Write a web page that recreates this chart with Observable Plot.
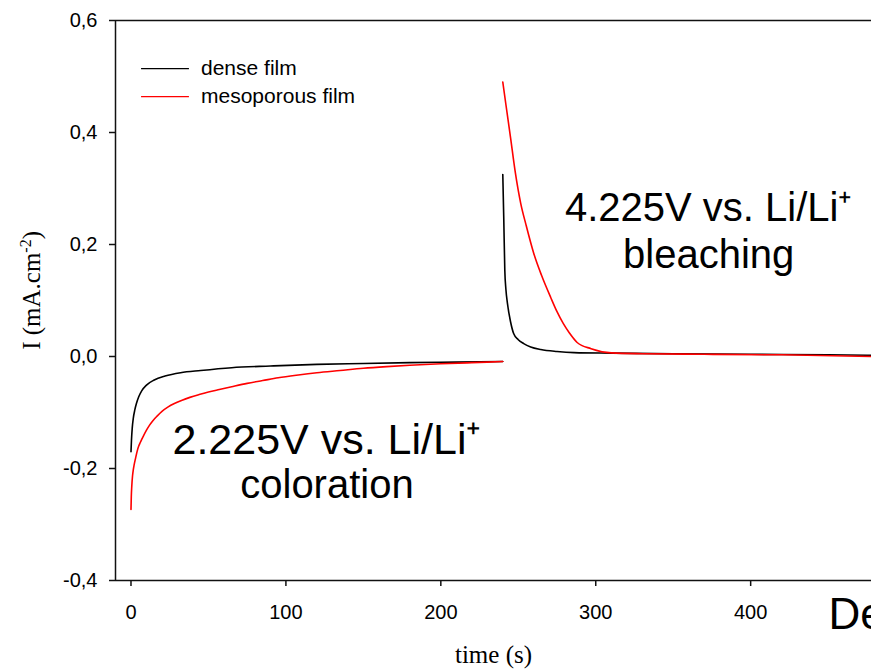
<!DOCTYPE html>
<html>
<head>
<meta charset="utf-8">
<script src="https://cdn.jsdelivr.net/npm/d3@7"></script>
<script src="https://cdn.jsdelivr.net/npm/@observablehq/plot@0.6"></script>
<style>
  html, body { margin: 0; padding: 0; background: #fff; }
</style>
</head>
<body>
<div id="chart"></div>
<script>
// ---- Data ----
const seriesNames = ["dense film", "mesoporous film"];
const seriesColors = ["#000000", "#ff0000"];

// Coloration step (2.225 V), time in s, current in mA.cm-2
const denseColT = [0, 0.3, 0.8, 1.5, 2.5, 3.5, 5, 7, 10, 15, 22, 32, 45, 65, 90, 120, 150, 180, 210, 240];
const denseColI = [-0.170, -0.150, -0.128, -0.110, -0.095, -0.084, -0.072, -0.061, -0.051, -0.042, -0.035, -0.029, -0.025, -0.020, -0.017, -0.014, -0.0125, -0.011, -0.010, -0.009];

const mesoColT = [0, 0.2, 0.5, 1, 1.5, 2, 3, 4, 5, 6, 7, 8, 10, 12, 14, 17, 20, 24, 28, 33, 38, 44, 50, 57, 65, 75, 85, 95, 108, 120, 135, 150, 165, 180, 200, 220, 240];
const mesoColI = [-0.273, -0.250, -0.232, -0.213, -0.202, -0.194, -0.181, -0.169, -0.160, -0.1535, -0.1475, -0.142, -0.1315, -0.1225, -0.115, -0.106, -0.098, -0.090, -0.084, -0.078, -0.073, -0.068, -0.0635, -0.059, -0.054, -0.048, -0.043, -0.038, -0.033, -0.029, -0.025, -0.021, -0.018, -0.0155, -0.013, -0.011, -0.009];

// Bleaching step (4.225 V)
const denseBleT = [240, 240.6, 241.3, 242, 243, 245, 247, 250, 253.5, 258, 264.5, 275, 286, 310, 350, 400, 450, 478];
const denseBleI = [0.325, 0.250, 0.154, 0.120, 0.095, 0.062, 0.041, 0.030, 0.023, 0.017, 0.0125, 0.009, 0.007, 0.006, 0.005, 0.004, 0.003, 0.002];

const mesoBleT = [240, 242, 245, 248, 251.6, 255, 260, 265, 271, 275, 279, 283, 288, 297, 310, 330, 370, 420, 478];
const mesoBleI = [0.490, 0.450, 0.391, 0.330, 0.273, 0.235, 0.184, 0.145, 0.105, 0.080, 0.059, 0.042, 0.025, 0.014, 0.0065, 0.005, 0.004, 0.003, 0.000];

const xTicks = [0, 100, 200, 300, 400];
const yTicks = [-0.4, -0.2, 0.0, 0.2, 0.4, 0.6];
const xLabel = "time (s)";
const yLabelParts = ["I (mA.cm", "-2", ")"];
const colorationText = ["2.225V vs. Li/Li⁺", "coloration"];
const bleachingText = ["4.225V vs. Li/Li⁺", "bleaching"];
const cornerText = "De";

// ---- Build a tidy table ----
function seg(ts, is, series, step) {
  return ts.map((t, k) => ({t, I: is[k], series, key: series + "|" + step}));
}
const rows = [
  ...seg(denseColT, denseColI, seriesNames[0], "col"),
  ...seg(denseBleT, denseBleI, seriesNames[0], "ble"),
  ...seg(mesoColT, mesoColI, seriesNames[1], "col"),
  ...seg(mesoBleT, mesoBleI, seriesNames[1], "ble")
];

const fmt = d => d.toFixed(1).replace(".", ",");
const sans = "'Liberation Sans', Arial, sans-serif";
const serif = "'Liberation Serif', 'Times New Roman', serif";
const yLabelPlain = yLabelParts.join("");

const plot = Plot.plot({
  width: 871,
  height: 672,
  marginLeft: 115,
  marginTop: 20,
  marginRight: 0,
  marginBottom: 92,
  style: {fontFamily: sans, fontSize: "20px", background: "#fff", color: "#000", overflow: "hidden"},
  x: {domain: [-10, 478]},
  y: {domain: [-0.4, 0.6]},
  color: {domain: seriesNames, range: seriesColors},
  marks: [
    // axis frame lines
    Plot.ruleX([-10], {stroke: "#111", strokeWidth: 1.5}),
    Plot.ruleY([-0.4], {stroke: "#111", strokeWidth: 1.5}),
    Plot.ruleY([0.6], {stroke: "#111", strokeWidth: 1.5}),
    Plot.axisY(yTicks, {tickSize: 6, tickPadding: 12, tickFormat: fmt, strokeWidth: 1.5, stroke: "#111", fontSize: 20, label: null}),
    Plot.axisX(xTicks, {tickSize: 6, tickPadding: 18, strokeWidth: 1.5, stroke: "#111", fontSize: 20, label: null}),
    // data curves
    Plot.line(rows, {x: "t", y: "I", z: "key", stroke: "series", strokeWidth: 1.6, curve: "monotone-x"}),
    // legend
    Plot.link(seriesNames, {
      x1: 6.5, x2: 37.4,
      y1: (d, i) => 0.514 - i * 0.05, y2: (d, i) => 0.514 - i * 0.05,
      stroke: d => d, strokeWidth: 1.3
    }),
    Plot.text(seriesNames, {
      x: 45.2, y: (d, i) => 0.514 - i * 0.05, text: d => d,
      textAnchor: "start", fontSize: 21, fill: "#000"
    }),
    // annotations
    Plot.text(colorationText, {
      x: 126.5, y: (d, i) => [-0.150, -0.230][i], text: d => d,
      fontSize: (d, i) => [43, 40][i], fill: "#000"
    }),
    Plot.text(bleachingText, {
      x: 372.9, y: (d, i) => [0.264, 0.181][i], text: d => d,
      fontSize: 40, fill: "#000"
    }),
    // axis titles
    Plot.text([yLabelPlain], {x: -64, y: 0.118, rotate: -90, fontFamily: serif, fontSize: 25, fill: "#000"}),
    Plot.text([xLabel], {frameAnchor: "bottom", dy: 82, fontFamily: serif, fontSize: 25, fill: "#000"}),
    Plot.text([cornerText], {frameAnchor: "bottom-right", dx: -43, dy: 48, textAnchor: "start", fontSize: 44, fill: "#000"})
  ]
});

// superscript in the y-axis title
plot.querySelectorAll("text").forEach(el => {
  if (el.textContent === yLabelPlain) {
    el.textContent = "";
    const ns = "http://www.w3.org/2000/svg";
    const a = document.createElementNS(ns, "tspan");
    a.textContent = yLabelParts[0];
    const b = document.createElementNS(ns, "tspan");
    b.textContent = yLabelParts[1];
    b.setAttribute("dy", "-9");
    b.setAttribute("font-size", "16");
    const c = document.createElementNS(ns, "tspan");
    c.textContent = yLabelParts[2];
    c.setAttribute("dy", "9");
    el.append(a, b, c);
  }
});

document.getElementById("chart").appendChild(plot);
</script>
</body>
</html>
